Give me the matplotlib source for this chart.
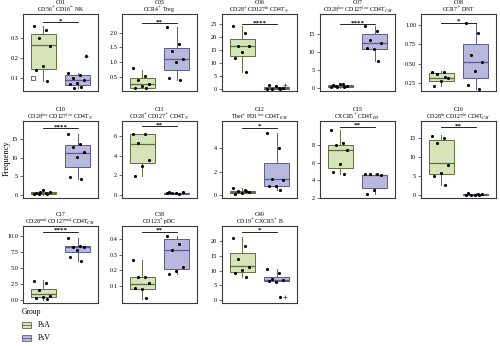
import numpy as np
import matplotlib.pyplot as plt
from matplotlib.patches import Rectangle

plt.rcParams["font.family"] = ["Liberation Serif", "DejaVu Serif"]
plt.rcParams["mathtext.fontset"] = "stix"

# data
panel_ids = ["C01", "C05", "C06", "C07", "C08",
             "C10", "C11", "C12", "C15", "C16",
             "C17", "C38", "C40"]
panel_titles = [
    "CD56$^{+}$ CD16$^{-}$ NK",
    "CCR4$^{+}$ Treg",
    "CD28$^{+}$ CD127$^{hi}$ CD4T$_{N}$",
    "CD28$^{low}$ CD127$^{low}$ CD4T$_{CM}$",
    "CCR7$^{+}$ DNT",
    "CD28$^{low}$ CD127$^{low}$ CD4T$_{N}$",
    "CD28$^{+}$ CD127$^{+}$ CD4T$_{N}$",
    "Tbet$^{+}$ PD1$^{low}$ CD4T$_{EM}$",
    "CXCR5$^{+}$ CD4T$_{FH}$",
    "CD28$^{hi}$ CD127$^{hi}$ CD4T$_{CM}$",
    "CD28$^{mid}$ CD127$^{mid}$ CD4T$_{CM}$",
    "CD123$^{+}$ pDC",
    "CD19$^{+}$ CXCR5$^{+}$ B",
]

psa_points = [
    [0.36, 0.342, 0.30, 0.26, 0.158, 0.142, 0.085],
    [0.78, 0.52, 0.39, 0.24, 0.17, 0.10, 0.10],
    [24.1, 21.6, 16.4, 16.6, 14.1, 11.9, 6.5],
    [0.4, 1.3, 0.8, 0.6, 1.1, 0.9, 0.3, 0.5],
    [0.40, 0.39, 0.37, 0.32, 0.28, 0.21, 0.33],
    [0.2, 0.5, 0.3, 0.7, 1.2, 0.4, 0.1, 0.6],
    [6.2, 6.2, 5.25, 3.55, 2.93, 1.9],
    [0.63, 0.4, 0.3, 0.25, 0.2, 0.1, 0.3],
    [9.8, 8.3, 8.0, 7.5, 5.86, 5.0, 4.66],
    [15.6, 15.1, 13.8, 8.1, 5.8, 5.1, 2.6],
    [3.0, 2.7, 1.56, 0.62, 0.5, 0.3, 0.1],
    [0.27, 0.16, 0.155, 0.12, 0.079, 0.085, 0.02],
    [21.2, 18.3, 13.8, 11.2, 10.1, 9.3, 7.8],
]
psv_points = [
    [0.123, 0.115, 0.10, 0.09, 0.075, 0.07, 0.055, 0.048, 0.21],
    [2.21, 1.6, 1.36, 1.1, 1.0, 0.47, 0.39],
    [0.1, 0.3, 0.2, 0.5, 1.1, 1.6, 0.1],
    [17.4, 16.0, 13.6, 12.7, 10.9, 11.2, 7.5],
    [1.03, 0.89, 0.616, 0.52, 0.41, 0.225, 0.175],
    [16.6, 13.8, 13.0, 11.6, 10.2, 4.9, 4.3],
    [0.15, 0.1, 0.2, 0.3, 0.12, 0.25],
    [5.3, 4.06, 1.4, 1.3, 0.8, 0.8, 0.4],
    [4.75, 4.7, 4.7, 4.6, 2.88, 2.39],
    [0.1, 0.3, 0.2, 0.4, 0.15, 0.5, 0.05],
    [9.7, 8.4, 8.3, 8.3, 7.8, 6.72, 6.1],
    [0.424, 0.372, 0.329, 0.222, 0.194, 0.176],
    [10.4, 9.25, 7.0, 6.7, 6.2, 6.6, 1.1],
]

# box stats: whisker low, q1, median, q3, whisker high
psa_box = [
    [0.085, 0.147, 0.264, 0.322, 0.36],
    [0.10, 0.10, 0.24, 0.44, 0.74],
    [6.5, 12.7, 16.6, 19.1, 24.4],
    [0.2, 0.4, 0.7, 1.0, 1.4],
    [0.21, 0.28, 0.32, 0.378, 0.41],
    [0.05, 0.2, 0.4, 0.6, 1.0],
    [1.9, 3.27, 5.2, 6.17, 6.2],
    [0.1, 0.18, 0.27, 0.35, 0.6],
    [4.66, 5.4, 7.46, 8.0, 9.75],
    [2.6, 5.5, 8.4, 14.7, 15.9],
    [0.0, 0.47, 0.89, 1.77, 3.1],
    [0.018, 0.079, 0.115, 0.155, 0.266],
    [7.8, 9.5, 11.5, 16.0, 21.4],
]
psv_box = [
    [0.048, 0.064, 0.089, 0.115, 0.123],
    [0.39, 0.74, 1.1, 1.47, 2.21],
    [0.0, 0.1, 0.3, 0.6, 1.1],
    [7.5, 10.9, 12.7, 15.2, 17.4],
    [0.175, 0.32, 0.52, 0.75, 1.03],
    [4.3, 7.5, 11.4, 13.4, 16.6],
    [0.05, 0.1, 0.17, 0.22, 0.3],
    [0.4, 0.77, 1.4, 2.7, 5.3],
    [2.39, 3.07, 4.55, 4.6, 4.75],
    [0.0, 0.1, 0.2, 0.3, 0.5],
    [6.1, 7.5, 8.28, 8.5, 9.7],
    [0.176, 0.206, 0.332, 0.40, 0.424],
    [6.1, 6.44, 6.8, 7.9, 10.4],
]
psa_outliers = [[0.10], [], [], [], [], [], [], [], [], [], [], [], []]
psv_outliers = [[0.21], [], [1.6], [], [], [], [], [], [], [], [], [], [1.1]]

signif = ["*", "**", "****", "****", "*", "****", "**", "*", "**", "**", "****", "**", "*"]
signif_y = [0.38, 2.32, 25.0, 17.9, 1.03, 18.0, 7.0, 5.77, 10.1, 18.0, 10.67, 0.449, 23.1]

y_limits = [(0.035, 0.42), (0.01, 2.64), (-0.75, 28.9), (-0.73, 20.7), (0.15, 1.14),
            (-0.9, 20.0), (-0.34, 7.53), (-0.26, 6.34), (1.97, 10.78), (-0.7, 19.6),
            (-0.47, 11.56), (-0.01, 0.486), (-1.0, 25.1)]
y_ticks = [[0.1, 0.2, 0.3], [0.5, 1.0, 1.5, 2.0], [0, 5, 10, 15, 20, 25], [0, 5, 10, 15],
           [0.25, 0.5, 0.75, 1.0], [0, 5, 10, 15], [0, 2, 4, 6], [0, 2, 4], [2, 4, 6, 8],
           [0, 5, 10, 15], [0, 2.5, 5, 7.5, 10], [0.1, 0.2, 0.3, 0.4], [0, 5, 10, 15, 20]]
tick_fmt = ["{:.1f}", "{:.1f}", "{:.0f}", "{:.0f}", "{:.2f}", "{:.0f}", "{:.0f}", "{:.0f}",
            "{:.0f}", "{:.0f}", "{:.1f}", "{:.1f}", "{:.0f}"]

groups = ["PsA", "PsV"]
fill_colors = ["#d6e4b8", "#b8b7de"]
edge_colors = ["#5f6d40", "#5d5b8c"]

W, H = 500, 346
col_left = [23, 122, 222, 320, 421]
row_top = [14, 121, 226]
ax_w, ax_h = 75, 77

fig = plt.figure(figsize=(5, 3.46), dpi=100)


def jitter(n):
    # fixed spread pattern, not random
    return [((i * 0.618) % 1.0 - 0.5) * 0.55 for i in range(n)]


for k, pid in enumerate(panel_ids):
    r, c = divmod(k, 5)
    left = col_left[c] / W
    bottom = 1 - (row_top[r] + ax_h) / H
    ax = fig.add_axes([left, bottom, ax_w / W, ax_h / H])

    for g, (box, pts, outl) in enumerate(zip([psa_box[k], psv_box[k]],
                                             [psa_points[k], psv_points[k]],
                                             [psa_outliers[k], psv_outliers[k]])):
        pos = g + 1
        stats = [dict(whislo=box[0], q1=box[1], med=box[2], q3=box[3], whishi=box[4], fliers=[])]
        ax.bxp(stats, positions=[pos], widths=0.75, patch_artist=True, showcaps=False,
               showfliers=False,
               boxprops=dict(facecolor=fill_colors[g], edgecolor=edge_colors[g], linewidth=0.7),
               whiskerprops=dict(color=edge_colors[g], linewidth=0.7),
               medianprops=dict(color=edge_colors[g], linewidth=0.9))
        if outl:
            if g == 0:
                ax.scatter([pos - 0.3] * len(outl), outl, s=6, marker="s", facecolor="white",
                           edgecolor="#333333", linewidth=0.5, zorder=4)
            else:
                ax.scatter([pos + 0.25] * len(outl), outl, s=6, marker="+",
                           color="#333333", linewidth=0.5, zorder=4)
        xs = pos + np.array(jitter(len(pts)))
        ax.scatter(xs, pts, s=5, color="black", zorder=5, linewidth=0)

    ax.plot([1, 2], [signif_y[k]] * 2, color="black", lw=0.6)
    ax.annotate(signif[k], xy=(1.5, signif_y[k]), xytext=(0, 1.0), textcoords="offset points",
                ha="center", va="center", fontsize=5, fontweight="bold")

    ax.set_xlim(0.4, 2.6)
    ax.set_ylim(*y_limits[k])
    ax.set_xticks([])
    ax.set_yticks(y_ticks[k])
    ax.set_yticklabels([tick_fmt[k].format(t) for t in y_ticks[k]])
    ax.tick_params(axis="y", labelsize=4.5, length=2, width=0.5, pad=1.5, color="#333333")
    for sp in ax.spines.values():
        sp.set_linewidth(0.8)
        sp.set_color("#3a3a3a")

    # two-line panel title
    ax.annotate(pid, xy=(0.5, 1), xycoords="axes fraction", xytext=(0, 6.9),
                textcoords="offset points", ha="center", va="baseline", fontsize=4.2)
    ax.annotate(panel_titles[k], xy=(0.5, 1), xycoords="axes fraction", xytext=(0, 1.6),
                textcoords="offset points", ha="center", va="baseline", fontsize=4.2)

fig.text(7 / W, 1 - 158 / H, "Frequency", rotation=90, ha="center", va="center", fontsize=6)

# legend
fig.text(22 / W, 1 - 312 / H, "Group", ha="left", va="center", fontsize=5.5)
for g, name in enumerate(groups):
    yc = 325 + g * 13
    fig.patches.append(Rectangle((22 / W, 1 - (yc + 3) / H), 9 / W, 6 / H,
                                 transform=fig.transFigure, facecolor=fill_colors[g],
                                 edgecolor=edge_colors[g], linewidth=0.6))
    fig.add_artist(plt.Line2D([22 / W, 31 / W], [1 - yc / H] * 2, color=edge_colors[g],
                              linewidth=0.6))
    fig.text(38 / W, 1 - yc / H, name, ha="left", va="center", fontsize=5.5)

fig.savefig("out.png", dpi=100)
